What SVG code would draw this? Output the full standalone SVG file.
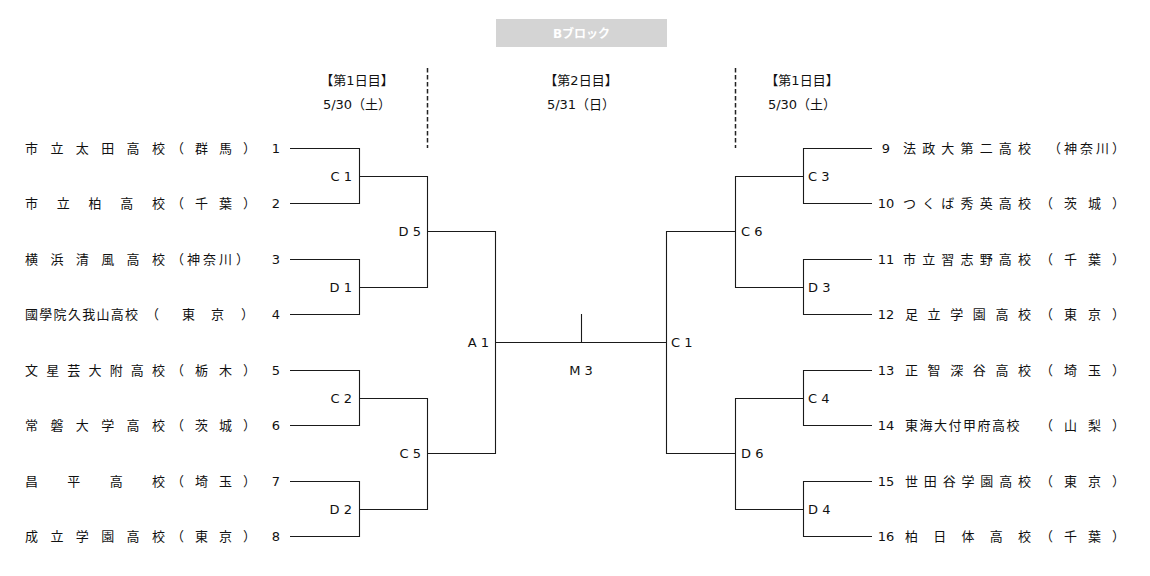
<svg xmlns="http://www.w3.org/2000/svg" width="1150" height="576" viewBox="0 0 1150 576">
<style>
.nm{font-family:"Noto Sans CJK JP","Noto Sans CJK SC",sans-serif;font-size:13px;fill:#111}
.no{font-family:"DejaVu Sans","Noto Sans CJK JP",sans-serif;font-size:13px;fill:#111;text-anchor:middle}
.lb{font-family:"DejaVu Sans",sans-serif;font-size:13px;fill:#111}
.r{text-anchor:end}
.c{text-anchor:middle}
.hd{font-family:"DejaVu Sans","Noto Sans CJK JP",sans-serif;font-size:13px;fill:#111;text-anchor:middle}
.ln{fill:none;stroke:#1a1a1a;stroke-width:1.1}
.dash{fill:none;stroke:#222;stroke-width:1.5;stroke-dasharray:4.5 2.5}
</style>
<rect width="1150" height="576" fill="#fff"/>
<g id="title">
<rect x="496" y="19" width="171" height="28" fill="#d4d4d4"/>
<text x="581.5" y="37.5" font-family="DejaVu Sans,'Noto Sans CJK JP',sans-serif" font-size="12" font-weight="bold" fill="#fff" text-anchor="middle">Bブロック</text>
</g>
<g id="headers">
<text class="hd" x="357" y="85">【第1日目】</text>
<text class="hd" x="357" y="109">5/30（土）</text>
<text class="hd" x="581" y="85">【第2日目】</text>
<text class="hd" x="581" y="109">5/31（日）</text>
<text class="hd" x="802" y="85">【第1日目】</text>
<text class="hd" x="802" y="109">5/30（土）</text>
<path class="dash" d="M427.5 68V148M735.5 68V148"/>
</g>
<g id="connectors">
<path class="ln" d="M290 148.5H359.5V203.5H290M290 259.5H359.5V314.5H290M290 370.5H359.5V425.5H290M290 481.5H359.5V536.5H290"/>
<path class="ln" d="M359.5 176.5H427.5V287.5H359.5M359.5 398.5H427.5V509.5H359.5"/>
<path class="ln" d="M427.5 231.5H495.5V453.5H427.5"/>
<path class="ln" d="M495.5 342.5H666.5M581.5 314V342.5"/>
<path class="ln" d="M735.5 231.5H666.5V453.5H735.5"/>
<path class="ln" d="M803.5 176.5H735.5V287.5H803.5M803.5 398.5H735.5V509.5H803.5"/>
<path class="ln" d="M872 148.5H803.5V203.5H872M872 259.5H803.5V314.5H872M872 370.5H803.5V425.5H872M872 481.5H803.5V536.5H872"/>
</g>
<g id="team-1"><text class="nm" x="25 50.4 75.8 101.2 126.6 152 171 195 219 243" y="153">市立太田高校（群馬）</text><text class="no" x="276" y="153">1</text></g>
<g id="team-2"><text class="nm" x="25 56.75 88.5 120.25 152 171 195 219 243" y="208">市立柏高校（千葉）</text><text class="no" x="276" y="208">2</text></g>
<g id="team-3"><text class="nm" x="25 50.4 75.8 101.2 126.6 152 171 187 203 219 236" y="264">横浜清風高校（神奈川）</text><text class="no" x="276" y="264">3</text></g>
<g id="team-4"><text class="nm" x="25 39.3 53.6 67.9 82.2 96.5 110.8 125.1 146 182 211 241" y="319">國學院久我山高校（東京）</text><text class="no" x="276" y="319">4</text></g>
<g id="team-5"><text class="nm" x="25 46.2 67.3 88.5 109.7 130.8 152 171 195 219 243" y="375">文星芸大附高校（栃木）</text><text class="no" x="276" y="375">5</text></g>
<g id="team-6"><text class="nm" x="25 50.4 75.8 101.2 126.6 152 171 195 219 243" y="430">常磐大学高校（茨城）</text><text class="no" x="276" y="430">6</text></g>
<g id="team-7"><text class="nm" x="25 67.3 109.7 152 171 195 219 243" y="486">昌平高校（埼玉）</text><text class="no" x="276" y="486">7</text></g>
<g id="team-8"><text class="nm" x="25 50.4 75.8 101.2 126.6 152 171 195 219 243" y="541">成立学園高校（東京）</text><text class="no" x="276" y="541">8</text></g>
<g id="team-9"><text class="no" x="886" y="153">9</text><text class="nm" x="903 922.2 941.3 960.5 979.7 998.8 1018 1048 1064 1080 1096 1112" y="153">法政大第二高校（神奈川）</text></g>
<g id="team-10"><text class="no" x="886" y="208">10</text><text class="nm" x="903 922.2 941.3 960.5 979.7 998.8 1018 1040 1064 1088 1112" y="208">つくば秀英高校（茨城）</text></g>
<g id="team-11"><text class="no" x="886" y="264">11</text><text class="nm" x="903 922.2 941.3 960.5 979.7 998.8 1018 1040 1064 1088 1112" y="264">市立習志野高校（千葉）</text></g>
<g id="team-12"><text class="no" x="886" y="319">12</text><text class="nm" x="905 927.6 950.2 972.8 995.4 1018 1040 1064 1088 1112" y="319">足立学園高校（東京）</text></g>
<g id="team-13"><text class="no" x="886" y="375">13</text><text class="nm" x="905 927.6 950.2 972.8 995.4 1018 1040 1064 1088 1112" y="375">正智深谷高校（埼玉）</text></g>
<g id="team-14"><text class="no" x="886" y="430">14</text><text class="nm" x="905 919.5 934 948.5 963 977.5 992 1006.5 1040 1064 1088 1112" y="430">東海大付甲府高校（山梨）</text></g>
<g id="team-15"><text class="no" x="886" y="486">15</text><text class="nm" x="905 923.8 942.7 961.5 980.3 999.2 1018 1040 1064 1088 1112" y="486">世田谷学園高校（東京）</text></g>
<g id="team-16"><text class="no" x="886" y="541">16</text><text class="nm" x="905 933.25 961.5 989.75 1018 1040 1064 1088 1112" y="541">柏日体高校（千葉）</text></g>
<g id="match-C1L"><text class="lb r" x="352" y="181">C 1</text></g>
<g id="match-D1"><text class="lb r" x="352" y="292">D 1</text></g>
<g id="match-C2"><text class="lb r" x="352" y="403">C 2</text></g>
<g id="match-D2"><text class="lb r" x="352" y="514">D 2</text></g>
<g id="match-D5"><text class="lb r" x="421" y="236">D 5</text></g>
<g id="match-C5"><text class="lb r" x="421" y="458">C 5</text></g>
<g id="match-A1"><text class="lb r" x="489" y="347">A 1</text></g>
<g id="match-M3"><text class="lb c" x="581" y="375">M 3</text></g>
<g id="match-C1R"><text class="lb" x="671" y="347">C 1</text></g>
<g id="match-C6"><text class="lb" x="741" y="236">C 6</text></g>
<g id="match-D6"><text class="lb" x="741" y="458">D 6</text></g>
<g id="match-C3"><text class="lb" x="808" y="181">C 3</text></g>
<g id="match-D3"><text class="lb" x="808" y="292">D 3</text></g>
<g id="match-C4"><text class="lb" x="808" y="403">C 4</text></g>
<g id="match-D4"><text class="lb" x="808" y="514">D 4</text></g>
</svg>
